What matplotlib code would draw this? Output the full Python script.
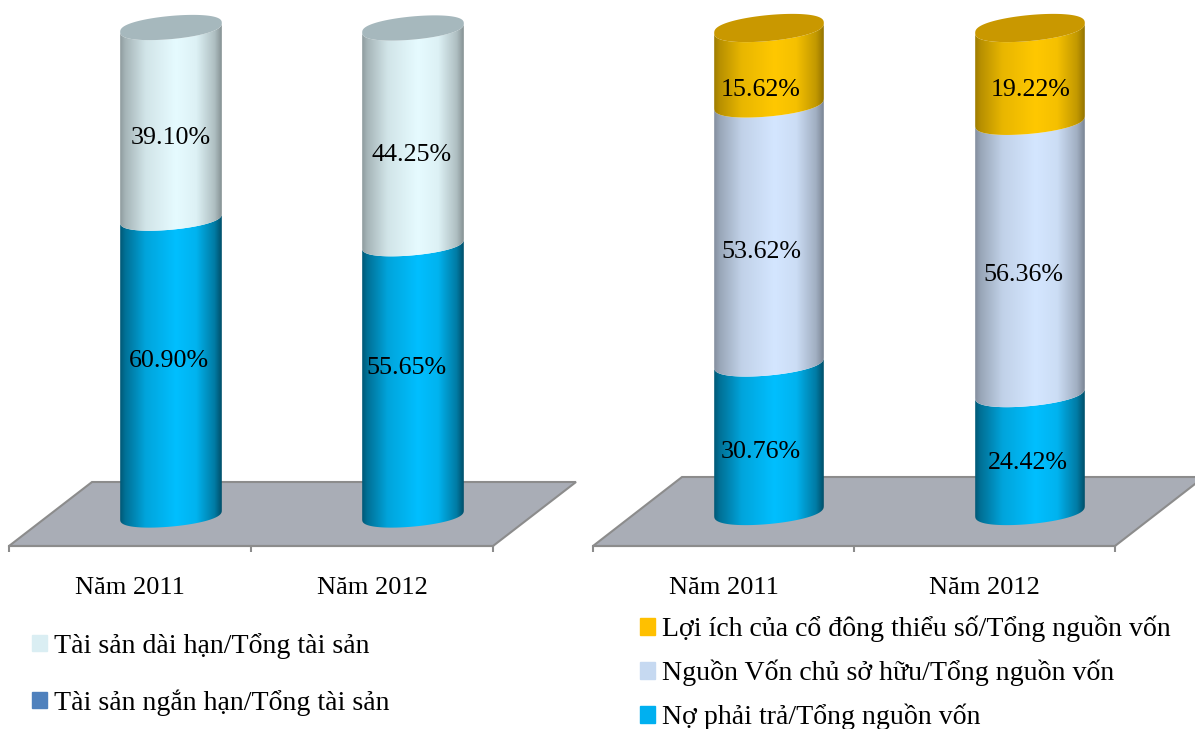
import matplotlib
matplotlib.use('Agg')
import matplotlib.pyplot as plt
import numpy as np
from matplotlib.patches import Patch, PathPatch, Polygon
from matplotlib.path import Path

plt.rcParams['font.family'] = ['Liberation Serif', 'DejaVu Serif']

# Data
years = ['Năm 2011', 'Năm 2012']

short_term_assets = [60.90, 55.65]
long_term_assets = [39.10, 44.25]

liabilities = [30.76, 24.42]
equity = [53.62, 56.36]
minority = [15.62, 19.22]

left_legend = ['Tài sản dài hạn/Tổng tài sản', 'Tài sản ngắn hạn/Tổng tài sản']
right_legend = ['Lợi ích của cổ đông thiểu số/Tổng nguồn vốn',
                'Nguồn Vốn chủ sở hữu/Tổng nguồn vốn',
                'Nợ phải trả/Tổng nguồn vốn']

# Side colours at the brightest part of the cylinder, and cap colours
BLUE = '#00bfff'
LIGHT = '#e6fbff'
PERIWINKLE = '#d4e6ff'
GOLD = '#ffc800'
LIGHT_CAP = '#a6b8bd'
GOLD_CAP = '#c99800'

W, H = 1195, 729
FONT = 18.7
LEGEND_FONT = 20.1

# Shading across the width of a cylinder
shade_pos = [0, .05, .25, .55, .75, .93, 1]
shade_val = [.62, .72, .91, 1, .96, .76, .58]


def shaded(colour):
    rgb = np.array(matplotlib.colors.to_rgb(colour))
    t = np.linspace(0, 1, 200)
    f = np.interp(t, shade_pos, shade_val)
    # the blue parts are shaded harder than the pale ones
    if colour == BLUE:
        f = f ** 1.6
    return (f[:, None] * rgb)[None, :, :]


def rim(t, b, tilt):
    # Height of the rim around its centre, a bit blunter than a true ellipse
    s = np.sin(t)
    return b * np.sign(s) * np.abs(s) ** .8 + tilt * np.cos(t)


def cylinder_part(ax, cx, half, y0, y1, b, tilt, colour):
    # y0 and y1 are the centres of the lower and upper edge, in data units
    t = np.linspace(np.pi, 2 * np.pi, 60)
    x = cx + half * np.cos(t)
    low = y0 + rim(t, b, tilt)
    high = y1 + rim(t, b, tilt)
    pts = np.vstack([np.column_stack([x, low]),
                     np.column_stack([x[::-1], high[::-1]])])
    clip = PathPatch(Path(np.vstack([pts, pts[:1]]), closed=True),
                     transform=ax.transData)
    im = ax.imshow(shaded(colour), extent=[cx - half, cx + half, y0 - 2 * b, y1 + 2 * b],
                   aspect='auto', interpolation='bilinear', zorder=3)
    im.set_clip_path(clip)


def draw_chart(ax, series, colours, cap, labels, offsets, box, zero_px, top_px, depth_px,
               back_px, cap_px, tilt_px):
    left, right = box
    ax.set_position([left / W, 1 - 546 / H, (right - left) / W, 546 / H])
    per_unit = (zero_px - top_px) / 100
    x_scale = (right - left) / 2
    ymin = (zero_px - 546) / per_unit
    ymax = zero_px / per_unit
    shift = 89 / x_scale if left > 100 else 83 / x_scale

    # Floor of the 3D chart
    ax.add_patch(Polygon([(-.5, ymin), (1.5, ymin), (1.5 + shift, ymin + back_px / per_unit),
                          (-.5 + shift, ymin + back_px / per_unit)],
                         facecolor='#a9adb6', edgecolor='#8c8c8c', linewidth=1.5,
                         clip_on=False, zorder=1))

    b = cap_px / per_unit
    tilt = tilt_px / per_unit
    half = .21
    depth = depth_px / x_scale
    for i in range(len(years)):
        cx = i + depth
        base = 0
        for j, values in enumerate(series):
            cylinder_part(ax, cx, half, base, base + values[i], b, tilt, colours[j])
            mid = base + values[i] / 2
            ax.annotate('%.2f%%' % values[i], (i + depth, mid), xytext=offsets[i][j],
                        textcoords='offset pixels', ha='center', va='center',
                        fontsize=FONT, color='black', zorder=6)
            base += values[i]
        # Cap on top of the stack
        t = np.linspace(0, 2 * np.pi, 120)
        ax.add_patch(Polygon(np.column_stack([cx + half * np.cos(t), base + rim(t, b, tilt)]),
                             facecolor=cap, edgecolor='none', zorder=4, clip_on=False))

    ax.set_xlim(-.5, 1.5)
    ax.set_ylim(ymin, ymax)
    ax.patch.set_visible(False)
    for s in ['top', 'left', 'right']:
        ax.spines[s].set_visible(False)
    ax.spines['bottom'].set_color('#8c8c8c')
    ax.spines['bottom'].set_linewidth(1.5)
    ax.set_yticks([])
    ax.set_xticks([0, 1])
    ax.set_xticklabels(labels, fontsize=19)
    ax.set_xticks([-.5, .5, 1.5], minor=True)
    ax.tick_params(axis='x', which='major', length=0, pad=22)
    ax.tick_params(axis='x', which='minor', length=4.5, width=1.5, color='#8c8c8c')


fig = plt.figure(figsize=(W / 100, H / 100), dpi=100)
ax1 = fig.add_axes([0, 0, 1, 1])
ax2 = fig.add_axes([0, 0, 1, 1])

# label offsets in pixels (dx, dy), one row per year, bottom segment first
offsets1 = [[(-2, 6), (0, -15)], [(-7, 11), (-1, -19)]]
offsets2 = [[(-8, -15), (-8, -19), (-8, -24)], [(-2, -11), (-7, -18), (1, -16)]]

draw_chart(ax1, [short_term_assets, long_term_assets], [BLUE, LIGHT], LIGHT_CAP, years,
           offsets1, (9, 493), 515, 27.5, 41, 64, 11.6, 4.5)
draw_chart(ax2, [liabilities, equity, minority], [BLUE, PERIWINKLE, GOLD], GOLD_CAP, years,
           offsets2, (593, 1115), 511, 28, 45.5, 69, 13, 5)

handles1 = [Patch(color='#daeef3'), Patch(color='#4f81bd')]
handles2 = [Patch(color='#ffc000'), Patch(color='#c6d9f1'), Patch(color='#00b0f0')]

fig.legend(handles1, left_legend, loc='upper left', bbox_to_anchor=(32 / W, 1 - 633 / H),
           frameon=False, fontsize=LEGEND_FONT, handlelength=.54, handleheight=.54,
           handletextpad=.24, labelspacing=1.09, borderaxespad=0, borderpad=0)
fig.legend(handles2, right_legend, loc='upper left', bbox_to_anchor=(640 / W, 1 - 616 / H),
           frameon=False, fontsize=LEGEND_FONT, handlelength=.54, handleheight=.54,
           handletextpad=.24, labelspacing=.62, borderaxespad=0, borderpad=0)

fig.savefig('out.png', dpi=100)
